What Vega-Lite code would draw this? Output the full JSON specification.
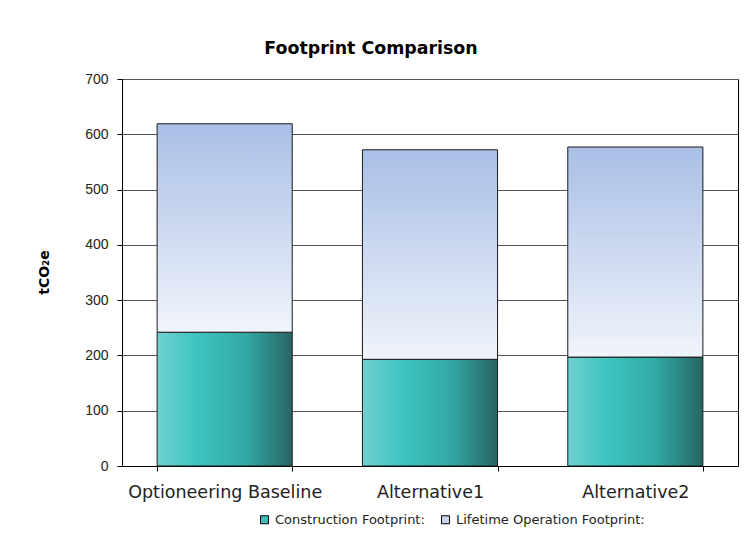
{
  "$schema": "https://vega.github.io/schema/vega-lite/v6.json",
  "width": 616,
  "height": 387,
  "autosize": {"type": "none"},
  "padding": {"left": 122, "top": 79, "right": 8, "bottom": 67},
  "background": "#ffffff",
  "title": {
    "text": "Footprint Comparison",
    "font": "DejaVu Sans",
    "fontSize": 17.4,
    "fontWeight": "bold",
    "color": "#000000",
    "anchor": "middle",
    "dx": -59,
    "offset": 15
  },
  "config": {
    "view": {"stroke": "#000000", "strokeWidth": 1},
    "font": "Liberation Sans"
  },
  "data": {
    "values": [
      {"option": "Optioneering Baseline", "construction": 242, "total": 619},
      {"option": "Alternative1", "construction": 193, "total": 572},
      {"option": "Alternative2", "construction": 197, "total": 577}
    ]
  },
  "encoding": {
    "x": {
      "field": "option",
      "type": "nominal",
      "sort": null,
      "scale": {"paddingInner": 0.342, "paddingOuter": 0.171},
      "axis": {
        "title": null,
        "labelAngle": 0,
        "labelFont": "DejaVu Sans",
        "labelFontSize": 17.5,
        "labelColor": "#222222",
        "labelPadding": 12,
        "labelLimit": 400,
        "labelOverlap": false,
        "tickBand": "extent",
        "tickColor": "#000000",
        "tickSize": 5,
        "domainColor": "#000000"
      }
    }
  },
  "layer": [
    {
      "mark": {
        "type": "bar",
        "stroke": "#1a1a1a",
        "strokeWidth": 1,
        "fill": {
          "gradient": "linear",
          "x1": 0, "y1": 0, "x2": 1, "y2": 0,
          "stops": [
            {"offset": 0, "color": "#70d0d0"},
            {"offset": 0.3, "color": "#3cc4c0"},
            {"offset": 0.65, "color": "#33a9a6"},
            {"offset": 1, "color": "#286563"}
          ]
        }
      },
      "encoding": {
        "y": {
          "field": "construction",
          "type": "quantitative",
          "scale": {"domain": [0, 700], "nice": false},
          "axis": {
            "title": "tCO₂e",
            "titleFont": "DejaVu Sans",
            "titleFontSize": 14,
            "titleFontWeight": "bold",
            "titleColor": "#000000",
            "titleAngle": -90,
            "titleX": -78,
            "titleY": 193,
            "titleAlign": "center",
            "titleBaseline": "middle",
            "values": [0, 100, 200, 300, 400, 500, 600, 700],
            "labelFontSize": 14,
            "labelColor": "#222222",
            "labelPadding": 9,
            "tickColor": "#000000",
            "tickSize": 5,
            "domainColor": "#000000",
            "grid": true,
            "gridColor": "#555555",
            "gridWidth": 1
          }
        }
      }
    },
    {
      "mark": {
        "type": "bar",
        "stroke": "#1a1a1a",
        "strokeWidth": 1,
        "fill": {
          "gradient": "linear",
          "x1": 0, "y1": 0, "x2": 0, "y2": 1,
          "stops": [
            {"offset": 0, "color": "#a9bfe6"},
            {"offset": 1, "color": "#f0f4fb"}
          ]
        }
      },
      "encoding": {
        "y": {"field": "total", "type": "quantitative"},
        "y2": {"field": "construction"}
      }
    },
    {
      "data": {
        "values": [
          {"series": "Construction Footprint:"},
          {"series": "Lifetime Operation Footprint:"}
        ]
      },
      "mark": {"type": "square", "opacity": 0, "filled": true},
      "encoding": {
        "x": {"value": 0},
        "y": {"value": 0},
        "color": {
          "field": "series",
          "type": "nominal",
          "scale": {
            "domain": ["Construction Footprint:", "Lifetime Operation Footprint:"],
            "range": ["#3bbdb9", "#c8d5ee"]
          },
          "legend": {
            "title": null,
            "orient": "none",
            "direction": "horizontal",
            "legendX": 136,
            "legendY": 434,
            "symbolType": "square",
            "symbolSize": 64,
            "symbolOpacity": 1,
            "symbolStrokeColor": "#000000",
            "symbolStrokeWidth": 1,
            "labelFont": "DejaVu Sans",
            "labelFontSize": 13,
            "labelColor": "#222222",
            "labelOffset": 4,
            "labelLimit": 400,
            "columnPadding": 14
          }
        }
      }
    }
  ]
}
